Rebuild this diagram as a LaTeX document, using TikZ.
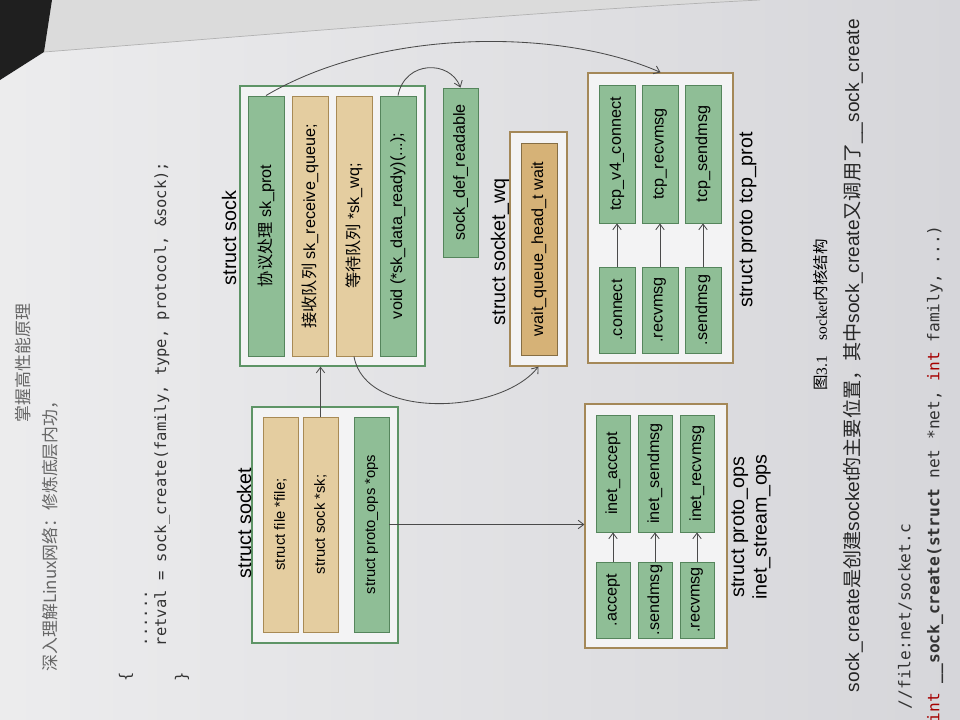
\documentclass[tikz,border=0pt]{standalone}
\usepackage{fontspec}
\setmainfont{Liberation Sans}
\setmonofont{DejaVu Sans Mono}
\newfontfamily\cjk{Noto Sans CJK SC}
\newfontfamily\capserif{Liberation Serif}
\usetikzlibrary{arrows.meta}
\definecolor{page}{HTML}{E4E4E6}
\definecolor{pagedark}{HTML}{D6D6DA}
\definecolor{fieldgreen}{HTML}{8FBE96}
\definecolor{fieldgreenline}{HTML}{55855C}
\definecolor{fieldtan}{HTML}{E4CDA0}
\definecolor{fieldtanline}{HTML}{A88A55}
\definecolor{waittan}{HTML}{D6B277}
\definecolor{boxgreen}{HTML}{5E9466}
\definecolor{boxbrown}{HTML}{A48858}
\definecolor{linkgray}{HTML}{4A4A4A}
\tikzset{%
  every field/.style={
    draw,
    rotate=90,
    inner sep=0pt,
    line width=0.6pt,
    minimum height=0.9cm,
    font=\fontsize{11.5}{13}\selectfont
  },
  green field/.style={every field, fill=fieldgreen, draw=fieldgreenline},
  tan field/.style={every field, fill=fieldtan, draw=fieldtanline},
  struct box/.style={draw, fill=white!55!page, line width=0.8pt, inner sep=0pt},
  struct name/.style={rotate=90, align=center, font=\fontsize{14}{16}\selectfont},
}

\begin{document}
\begin{tikzpicture}[x=0.025cm, y=-0.025cm]
    \tikzstyle{link}=[-{Straight Barb[length=4pt,width=6pt]}, draw=linkgray, line width=0.6pt]
    \tikzstyle{code}=[rotate=90, anchor=west, text=black!80, font=\ttfamily\fontsize{11}{13}\selectfont]
    % page of the book
    \useasboundingbox (0,0) rectangle (960,720);
    \clip (0,0) rectangle (960,720);
    \shade[left color=page!70!white, right color=pagedark] (0,0) rectangle (960,720);
    \fill[white!86!black] (52,0) -- (44,52) .. controls (300,32) and (560,10) .. (760,0) -- cycle;
    \fill[black!88] (0,0) -- (52,0) -- (44,52) -- (0,80) -- cycle;
    \draw[black!30, line width=0.5pt] (44,52) .. controls (300,32) and (560,10) .. (760,0);

    % text round the figure
    \node[rotate=90, text=black!60, font=\cjk\fontsize{12}{14}\selectfont] (head) at (50,532) {深入理解Linux网络：修炼底层内功，};
    \node[rotate=90, text=black!60, font=\cjk\fontsize{12}{14}\selectfont] (headb) at (23,363) {掌握高性能原理};
    \node[code] (lbrace) at (126,686) {\{};
    \node[code] (dots) at (146,651) {......};
    \node[code] (retval) at (162,651) {retval = sock\_create(family, type, protocol, \&sock);};
    \node[code] (rbrace) at (182,686) {\}};

    % struct socket
    \node[struct box, draw=boxgreen, minimum width=3.65cm, minimum height=5.9cm] (socketbox) at (325,525) {};
    \node[struct name] (socketname) at (244,523) {struct socket};
    \node[tan field, minimum width=5.375cm, minimum height=0.875cm, font=\fontsize{10.5}{12}\selectfont] (file) at (280.5,524.5) {struct file *file;};
    \node[tan field, minimum width=5.375cm, minimum height=0.875cm, font=\fontsize{10.5}{12}\selectfont] (sk) at (320.5,524.5) {struct sock *sk;};
    \node[green field, minimum width=5.375cm, minimum height=0.875cm, font=\fontsize{10.5}{12}\selectfont] (ops) at (371.5,524.5) {struct proto\_ops *ops};

    % struct sock
    \node[struct box, draw=boxgreen, minimum width=4.625cm, minimum height=7cm] (sockbox) at (332.5,226) {};
    \node[struct name] (sockname) at (229,238) {struct sock};
    \node[green field, minimum width=6.5cm] (prot) at (266,226) {{\cjk 协议处理} sk\_prot};
    \node[tan field, minimum width=6.5cm] (rqueue) at (310,226) {{\cjk 接收队列} sk\_receive\_queue;};
    \node[tan field, minimum width=6.5cm] (wq) at (354,226) {{\cjk 等待队列} *sk\_wq;};
    \node[green field, minimum width=6.5cm] (ready) at (398,226) {void (*sk\_data\_ready)(...);};
    \node[green field, minimum width=4.225cm, minimum height=0.875cm] (readable) at (460.5,172.5) {sock\_def\_readable};

    % struct socket_wq
    \node[struct box, draw=boxbrown, minimum width=1.425cm, minimum height=5.85cm] (wqbox) at (538.5,249) {};
    \node[struct name] (wqname) at (500,252) {struct socket\_wq};
    \node[every field, fill=waittan, draw=fieldtanline!80!black, minimum width=5.3cm] (wait) at (539,249) {wait\_queue\_head\_t wait};

    % struct proto tcp_prot
    \node[struct box, draw=boxbrown, minimum width=3.625cm, minimum height=7.25cm] (protbox) at (660.5,218) {};
    \node[struct name] (protname) at (748,220) {struct proto tcp\_prot};
    \node[green field, minimum width=3.45cm] (v4connect) at (617,154) {tcp\_v4\_connect};
    \node[green field, minimum width=3.45cm] (tcprecv) at (660,154) {tcp\_recvmsg};
    \node[green field, minimum width=3.45cm] (tcpsend) at (703,154) {tcp\_sendmsg};
    \node[green field, minimum width=2.15cm] (pconnect) at (617,310) {.connect};
    \node[green field, minimum width=2.15cm] (precv) at (660,310) {.recvmsg};
    \node[green field, minimum width=2.15cm] (psend) at (703,310) {.sendmsg};

    % struct proto_ops inet_stream_ops
    \node[struct box, draw=boxbrown, minimum width=3.55cm, minimum height=6.1cm] (opsbox) at (656,526) {};
    \node[struct name] (opsname) at (751,527) {struct proto\_ops\\inet\_stream\_ops};
    \node[green field, minimum width=2.925cm, minimum height=0.85cm] (inetaccept) at (613,473.5) {inet\_accept};
    \node[green field, minimum width=2.925cm, minimum height=0.85cm] (inetsend) at (655,473.5) {inet\_sendmsg};
    \node[green field, minimum width=2.925cm, minimum height=0.85cm] (inetrecv) at (697,473.5) {inet\_recvmsg};
    \node[green field, minimum width=1.9cm, minimum height=0.85cm] (oaccept) at (613,600) {.accept};
    \node[green field, minimum width=1.9cm, minimum height=0.85cm] (osend) at (655,600) {.sendmsg};
    \node[green field, minimum width=1.9cm, minimum height=0.85cm] (orecv) at (697,600) {.recvmsg};

    % links
    \draw[link] (sk.east) -- (sk.east |- sockbox.south);
    \draw[link] (ops.south) -- (ops.south -| opsbox.west);
    \draw[link] (prot.east) .. controls (380,28) and (560,28) .. (protbox.north);
    \draw[link] (ready.east) .. controls (405,60) and (450,60) .. (readable.east);
    \draw[link] (wq.west) .. controls (365,420) and (500,415) .. (wqbox.south);
    \draw[link] (pconnect.east) -- (v4connect.west);
    \draw[link] (precv.east) -- (tcprecv.west);
    \draw[link] (psend.east) -- (tcpsend.west);
    \draw[link] (oaccept.east) -- (inetaccept.west);
    \draw[link] (osend.east) -- (inetsend.west);
    \draw[link] (orecv.east) -- (inetrecv.west);

    % caption and text after the figure
    \node[rotate=90, font=\fontsize{11}{13}\selectfont] (caption) at (821,315) {{\cjk 图}{\capserif 3.1}\quad{\capserif socket}{\cjk 内核结构}};
    \node[rotate=90, anchor=west, text=black!85, font=\fontsize{13.6}{16}\selectfont] (para) at (853,697) {sock\_create{\cjk 是创建}socket{\cjk 的主要位置，其中}sock\_create{\cjk 又调用了}\_\_sock\_create};
    \node[code, font=\ttfamily\fontsize{11.5}{13}\selectfont] (filename) at (905,714) {//file:net/socket.c};
    \node[code, font=\ttfamily\fontsize{11.5}{13}\selectfont] (signature) at (935,727) {{\color{red!65!black}int} \textbf{\_\_sock\_create(struct} net *net, {\color{red!65!black}int} family, ...)};
\end{tikzpicture}
\end{document}
